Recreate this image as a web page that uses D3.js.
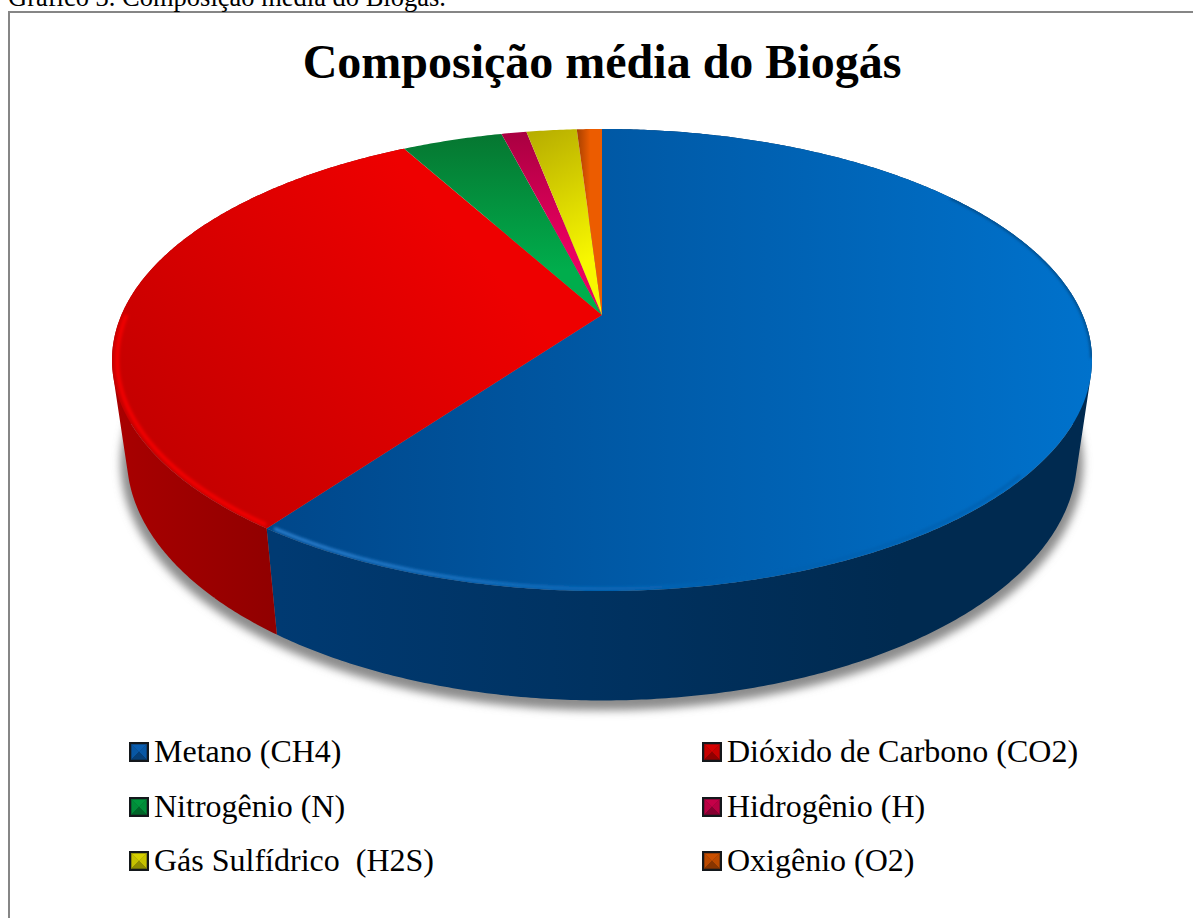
<!DOCTYPE html>
<html>
<head>
<meta charset="utf-8">
<script src="https://cdn.jsdelivr.net/npm/d3@7"></script>
<style>
  html, body { margin: 0; background: #fff; overflow: hidden; }
  text { font-family: "Liberation Serif", "Times New Roman", serif; fill: #000; }
</style>
</head>
<body>
<svg width="1193" height="918"></svg>
<script>
var caption = "Gráfico 3. Composição média do Biogás.";
var title = "Composição média do Biogás";
var categories = ["Metano (CH4)", "Dióxido de Carbono (CO2)", "Nitrogênio (N)", "Hidrogênio (H)", "Gás Sulfídrico  (H2S)", "Oxigênio (O2)"];
var values = [60, 32, 4, 1, 2, 1];

var swatchColors = ["#0a68c4", "#ee0000", "#00a844", "#dc0050", "#eee800", "#e05800"];
// [x1, y1, x2, y2, start, stop] for the top of each slice
var topFills = [
  [270, 0, 1092, 0, "#00478a", "#0072cc"],
  [130, 480, 440, 210, "#c00000", "#ee0000"],
  [0, 130, 0, 270, "#067530", "#00ad4c"],
  [0, 130, 0, 250, "#a80040", "#ea0060"],
  [520, 130, 590, 260, "#b4aa00", "#f8f800"],
  [577, 0, 590, 0, "#a84000", "#ec5c00"]
];
var sideFills = [
  [278, 0, 900, 0, "#003a72", "#002a50"],
  [118, 0, 278, 0, "#a80000", "#900000"]
];

var svg = d3.select("svg");
var defs = svg.append("defs");

// the disc is seen in perspective, so a point on it goes through this projection
var cx = 602, k = 0.1948;
var layers = {
  top: { a: 480.6, b: 160.9, y0: 315 },
  rim: { a: 475.5, b: 159, y0: 315 },
  bottom: { a: 466, b: 154, y0: 410 },
  shadow: { a: 472, b: 157, y0: 415 }
};
function project(theta, layer) {
  var p = layers[layer], u = Math.sin(theta), v = Math.cos(theta), w = 1 + k * v;
  return [cx + p.a * u / w, (p.y0 - p.b * v) / w];
}

var step = Math.PI / 360;
function samples(a0, a1) {
  var n = Math.max(2, Math.ceil((a1 - a0) / step));
  return d3.range(n + 1).map(function(i) { return a0 + (a1 - a0) * i / n; });
}

var line = d3.line();
var slices = d3.pie().sort(null).value(function(d) { return d; })(values);

function addGradient(id, f) {
  var g = defs.append("linearGradient").attr("id", id).attr("gradientUnits", "userSpaceOnUse")
    .attr("x1", f[0]).attr("y1", f[1]).attr("x2", f[2]).attr("y2", f[3]);
  g.append("stop").attr("offset", 0).attr("stop-color", f[4]);
  g.append("stop").attr("offset", 1).attr("stop-color", f[5]);
}

defs.append("filter").attr("id", "soft").attr("x", "-10%").attr("y", "-10%").attr("width", "120%").attr("height", "120%")
  .append("feGaussianBlur").attr("stdDeviation", 4);
defs.append("filter").attr("id", "rim").attr("filterUnits", "userSpaceOnUse")
  .attr("x", 0).attr("y", 0).attr("width", 1193).attr("height", 918)
  .append("feGaussianBlur").attr("stdDeviation", 1.4);

topFills.forEach(function(f, i) { addGradient("top" + i, f); });
sideFills.forEach(function(f, i) { addGradient("side" + i, f); });
addGradient("blueRim", [300, 0, 720, 0, "#2f84d4", "#0060b0"]);

// frame
svg.append("rect").attr("x", 9).attr("y", 12).attr("width", 1300).attr("height", 1000)
  .attr("fill", "#fff").attr("stroke", "#868686").attr("stroke-width", 2);

svg.append("text").attr("x", 8).attr("y", 6).attr("font-size", 26.5).text(caption);
svg.append("text").attr("x", 602).attr("y", 78).attr("text-anchor", "middle")
  .attr("font-size", 48).attr("font-weight", "bold").text(title);

// drop shadow
var all = samples(0, 2 * Math.PI);
svg.append("path")
  .attr("d", line(all.map(function(t) { return project(t, "shadow"); })) + "Z")
  .attr("fill", "#8c8c8c").attr("filter", "url(#soft)");

// side wall: many thin quads so the outline follows the tangent between both rims
slices.slice(0, 2).forEach(function(s, i) {
  var ts = samples(s.startAngle, s.endAngle);
  var d = d3.pairs(ts).map(function(p) {
    var q = [project(p[0], "top"), project(p[1], "top"), project(p[1], "bottom"), project(p[0], "bottom")];
    return line(d3.polygonHull(q)) + "Z";
  }).join("");
  svg.append("path").attr("d", d).attr("fill", "url(#side" + i + ")");
});

// top of the pie
svg.append("clipPath").attr("id", "disc").append("path")
  .attr("d", line(all.map(function(t) { return project(t, "top"); })) + "Z");

svg.selectAll("path.face").data(slices).enter().append("path")
  .attr("class", "face")
  .attr("d", function(s) {
    var arc = samples(s.startAngle, s.endAngle).map(function(t) { return project(t, "top"); });
    return line([[cx, layers.top.y0]].concat(arc)) + "Z";
  })
  .attr("fill", function(s, i) { return "url(#top" + i + ")"; });

// bevel highlight along the front of the rim
var rims = svg.append("g").attr("clip-path", "url(#disc)");
function rim(a0, a1, layer, color, width) {
  rims.append("path")
    .attr("d", line(samples(a0, a1).map(function(t) { return project(t, layer); })))
    .attr("fill", "none").attr("stroke", color).attr("stroke-width", width).attr("filter", "url(#rim)");
}
rim(slices[1].startAngle + 0.01, 3 * Math.PI / 2, "rim", "#f20000", 4);
rim(Math.PI * 0.72, slices[0].endAngle - 0.01, "rim", "url(#blueRim)", 3);
rim(Math.PI * 0.3, Math.PI * 0.56, "top", "#004a86", 3);

// legend
var colX = [129, 702], rowY = [742, 797, 851];
var legend = svg.selectAll("g.item").data(categories).enter().append("g")
  .attr("class", "item")
  .attr("transform", function(d, i) { return "translate(" + colX[i % 2] + "," + rowY[Math.floor(i / 2)] + ")"; });

legend.append("rect").attr("width", 20).attr("height", 20).attr("fill", "#14181c");
legend.each(function(d, i) {
  var g = d3.select(this), c = d3.color(swatchColors[i]);
  var a = 2.5, z = 17.5, m = 10;
  var tris = [
    [[a, a], [z, a], [m, m], c.darker(0.3)],
    [[z, a], [z, z], [m, m], c.darker(0.5)],
    [[a, z], [a, a], [m, m], c.darker(0.5)],
    [[z, z], [a, z], [m, m], c.darker(1.4)]
  ];
  tris.forEach(function(t) {
    g.append("path").attr("d", line(t.slice(0, 3)) + "Z")
      .attr("fill", t[3].toString()).attr("stroke", t[3].toString()).attr("stroke-width", 0.4);
  });
});
legend.append("text").attr("x", 25).attr("y", 20).attr("font-size", 32)
  .style("white-space", "pre").text(function(d) { return d; });
</script>
</body>
</html>
